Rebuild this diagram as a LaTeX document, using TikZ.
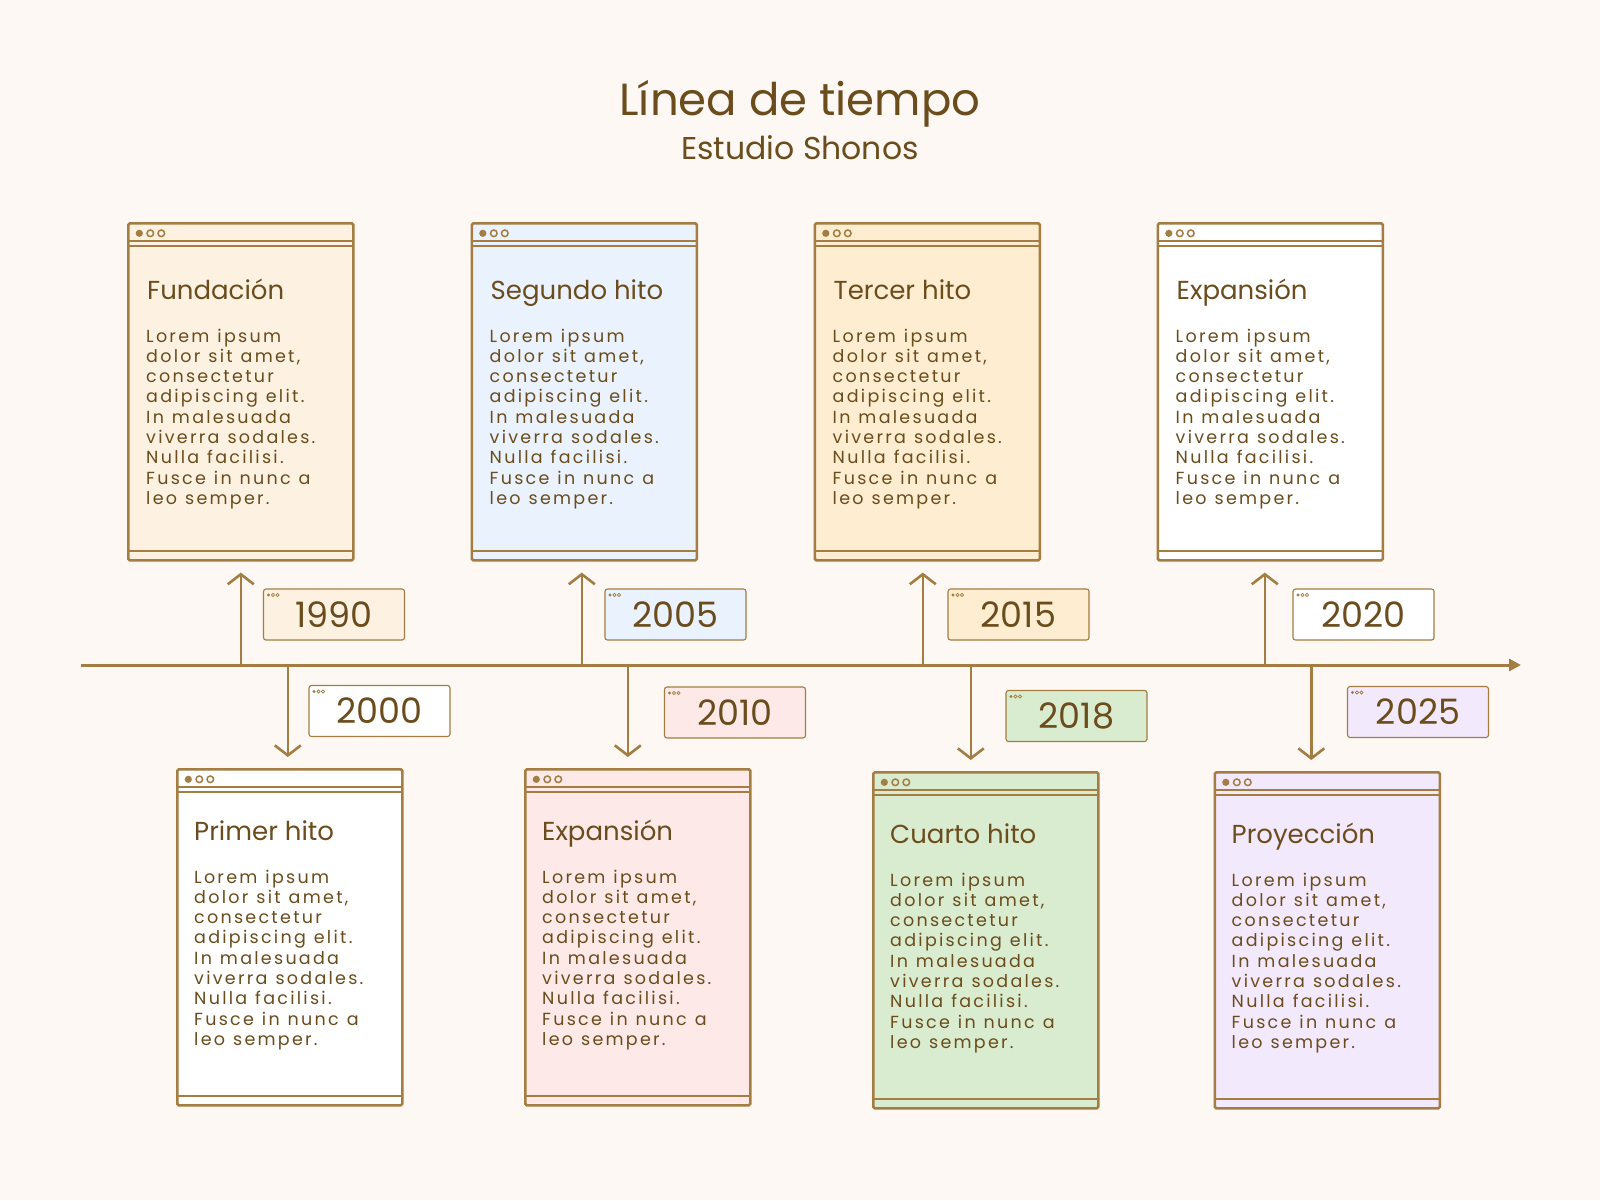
\documentclass[tikz,border=0pt]{standalone}
\usepackage{fontspec}
\setmainfont{Poppins}
\newfontfamily\bodyfont[LetterSpace=13]{Poppins}
\usetikzlibrary{arrows.meta,positioning}
\definecolor{paper}{HTML}{FDF8F3}
\definecolor{ink}{HTML}{A37D42}
\definecolor{inktext}{HTML}{6B4C1C}
\definecolor{fillcream}{HTML}{FDF2E1}
\definecolor{fillblue}{HTML}{EAF3FD}
\definecolor{fillorange}{HTML}{FEEDD0}
\definecolor{fillpink}{HTML}{FDE9E8}
\definecolor{fillgreen}{HTML}{D9ECCF}
\definecolor{filllilac}{HTML}{F3E9FD}
\tikzset{
  card/.style={draw=ink, line width=2.6pt, rounded corners=1.5pt, anchor=north west,
    minimum width=225pt, minimum height=337pt, inner sep=0pt,
    path picture={
      \draw[ink,line width=2pt] ([yshift=-18pt]path picture bounding box.north west) -- ([yshift=-18pt]path picture bounding box.north east);
      \draw[ink,line width=1.4pt] ([yshift=-22.5pt]path picture bounding box.north west) -- ([yshift=-22.5pt]path picture bounding box.north east);
      \draw[ink,line width=2pt] ([yshift=9pt]path picture bounding box.south west) -- ([yshift=9pt]path picture bounding box.south east);
      \fill[ink] ([xshift=11pt,yshift=-10pt]path picture bounding box.north west) circle (3.6pt);
      \draw[ink,line width=1.5pt] ([xshift=22pt,yshift=-10pt]path picture bounding box.north west) circle (3.3pt);
      \draw[ink,line width=1.5pt] ([xshift=33pt,yshift=-10pt]path picture bounding box.north west) circle (3.3pt);
    }},
  yearbox/.style={draw=ink, line width=1.1pt, rounded corners=2.5pt,
    minimum width=141pt, minimum height=51pt, inner sep=0pt,
    text=inktext, font=\fontsize{35}{38}\selectfont,
    path picture={
      \fill[ink] ([xshift=5pt,yshift=-6pt]path picture bounding box.north west) circle (1.6pt);
      \draw[ink,line width=0.7pt] ([xshift=9.5pt,yshift=-6pt]path picture bounding box.north west) circle (1.6pt);
      \draw[ink,line width=0.7pt] ([xshift=14pt,yshift=-6pt]path picture bounding box.north west) circle (1.6pt);
    }},
  cardtitle/.style={anchor=base west, inner sep=0pt, text=inktext, font=\fontsize{26}{30}\selectfont},
  cardbody/.style={anchor=base west, inner sep=0pt, text=inktext, text width=215pt, align=left,
    font=\bodyfont\fontsize{17.5}{20.3}\selectfont},
  axis/.style={draw=ink, line width=3pt, -{Triangle[length=12pt,width=12pt]}},
  rise/.style={draw=ink, line width=2.6pt, shorten >=11pt, -{Straight Barb[length=10pt,width=26pt]}},
  fall/.style={draw=ink, line width=2.6pt, shorten >=11pt, -{Straight Barb[length=10pt,width=26pt]}},
}
\newcommand{\lorem}{\spaceskip=8pt plus 1pt\relax Lorem ipsum\\dolor sit amet,\\consectetur\\adipiscing elit.\\In malesuada\\viverra sodales.\\Nulla facilisi.\\Fusce in nunc a\\leo semper.}
\begin{document}
\begin{tikzpicture}[x=1pt,y=-1pt]
\fill[paper] (0,0) rectangle (1600,1200);
\useasboundingbox (0,0) rectangle (1600,1200);

% title
\node[text=inktext, font=\fontsize{45}{50}\selectfont, anchor=base] (head) at (800,115) {Línea de tiempo};
\node[text=inktext, font=\fontsize{31.5}{36}\selectfont, anchor=base] (sub) at (800,159) {Estudio Shonos};

% cards above the line
\node[card, fill=fillcream] (fund) at (127,222) {};
\node[card, fill=fillblue] (seg) at (470.5,222) {};
\node[card, fill=fillorange] (ter) at (813.5,222) {};
\node[card, fill=white] (expA) at (1156.5,222) {};

% cards below the line
\node[card, fill=white, minimum height=336pt] (prim) at (176,768) {};
\node[card, fill=fillpink, minimum height=336pt] (expB) at (524,768) {};
\node[card, fill=fillgreen, minimum height=336pt] (cuar) at (872,771) {};
\node[card, fill=filllilac, minimum height=336pt] (proy) at (1213.5,771) {};

% texts
\node[cardtitle] (fundT) at ([xshift=20pt,yshift=-77pt]fund.north west) {Fundación};
\node[cardbody] (fundB) at ([xshift=19pt,yshift=-120pt]fund.north west) {\lorem};
\node[cardtitle] (segT) at ([xshift=20pt,yshift=-77pt]seg.north west) {Segundo hito};
\node[cardbody] (segB) at ([xshift=19pt,yshift=-120pt]seg.north west) {\lorem};
\node[cardtitle] (terT) at ([xshift=20pt,yshift=-77pt]ter.north west) {Tercer hito};
\node[cardbody] (terB) at ([xshift=19pt,yshift=-120pt]ter.north west) {\lorem};
\node[cardtitle] (expAT) at ([xshift=20pt,yshift=-77pt]expA.north west) {Expansión};
\node[cardbody] (expAB) at ([xshift=19pt,yshift=-120pt]expA.north west) {\lorem};
\node[cardtitle] (primT) at ([xshift=18pt,yshift=-72pt]prim.north west) {Primer hito};
\node[cardbody] (primB) at ([xshift=18pt,yshift=-115pt]prim.north west) {\lorem};
\node[cardtitle] (expBT) at ([xshift=18pt,yshift=-72pt]expB.north west) {Expansión};
\node[cardbody] (expBB) at ([xshift=18pt,yshift=-115pt]expB.north west) {\lorem};
\node[cardtitle] (cuarT) at ([xshift=18pt,yshift=-72pt]cuar.north west) {Cuarto hito};
\node[cardbody] (cuarB) at ([xshift=18pt,yshift=-115pt]cuar.north west) {\lorem};
\node[cardtitle] (proyT) at ([xshift=18pt,yshift=-72pt]proy.north west) {Proyección};
\node[cardbody] (proyB) at ([xshift=18pt,yshift=-115pt]proy.north west) {\lorem};

% years
\node[yearbox, fill=fillcream] (y1990) at (334,614.5) {1990};
\node[yearbox, fill=fillblue] (y2005) at (675.5,614.5) {2005};
\node[yearbox, fill=fillorange] (y2015) at (1018.5,614.5) {2015};
\node[yearbox, fill=white] (y2020) at (1363.5,614.5) {2020};
\node[yearbox, fill=white] (y2000) at (379.5,711) {2000};
\node[yearbox, fill=fillpink] (y2010) at (735,712.5) {2010};
\node[yearbox, fill=fillgreen] (y2018) at (1076.5,716) {2018};
\node[yearbox, fill=filllilac] (y2025) at (1418,712) {2025};

% time line
\coordinate (lineL) at (81,665);
\coordinate (lineR) at (1521,665);
\draw[axis] (lineL) -- (lineR);

\draw[rise] (fund.south |- lineL) -- (fund.south);
\draw[rise] ([xshift=-2.5pt]seg.south |- lineL) -- ([xshift=-2.5pt]seg.south);
\draw[rise] ([xshift=-4.5pt]ter.south |- lineL) -- ([xshift=-4.5pt]ter.south);
\draw[rise] ([xshift=-5.5pt]expA.south |- lineL) -- ([xshift=-5.5pt]expA.south);
\draw[fall] ([xshift=-2pt]prim.north |- lineL) -- ([xshift=-2pt]prim.north);
\draw[fall] ([xshift=-10pt]expB.north |- lineL) -- ([xshift=-10pt]expB.north);
\draw[fall] ([xshift=-15pt]cuar.north |- lineL) -- ([xshift=-15pt]cuar.north);
\draw[fall] ([xshift=-16pt]proy.north |- lineL) -- ([xshift=-16pt]proy.north);
\end{tikzpicture}
\end{document}
